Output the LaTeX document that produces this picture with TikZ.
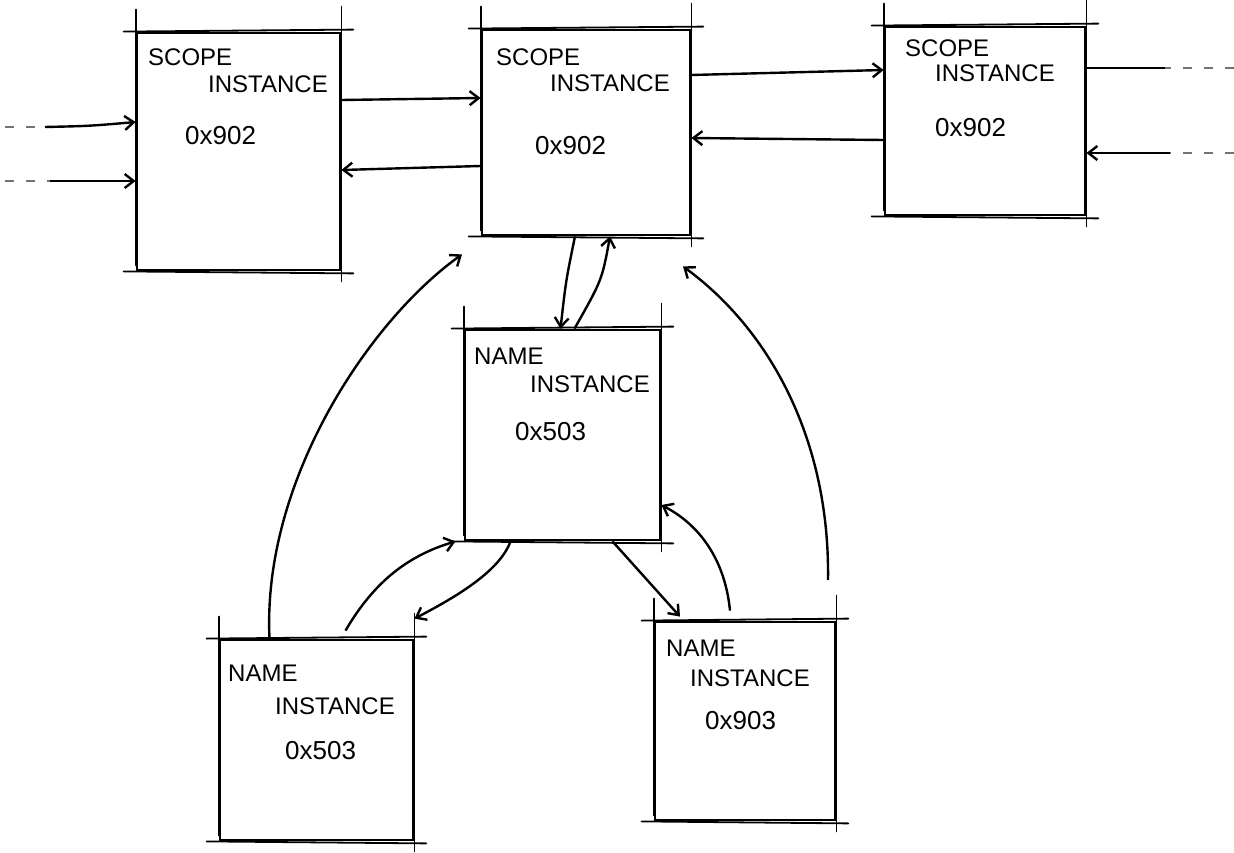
\documentclass[tikz,border=0pt]{standalone}
\usepackage{fontspec}
\setmainfont{Liberation Sans}
\usetikzlibrary{arrows.meta,calc}
\tikzset{
  boxnode/.style={draw=black, line width=2.8pt, inner sep=0pt},
  extline/.style={black, line width=1.8pt, line cap=round},
  lbl/.style={font=\fontsize{24}{26}\selectfont, anchor=west, inner sep=0pt},
  num/.style={font=\fontsize{26}{28}\selectfont, anchor=west, inner sep=0pt},
  conn/.style={black, line width=2.4pt, -{Straight Barb[length=9pt,width=14pt,line width=2.4pt]}},
  plainconn/.style={black, line width=2.4pt},
  fade/.style={black!55, line width=2.4pt, dash pattern=on 9pt off 12pt},
}
\newcommand\sketchext[1]{%
  \draw[extline] ($(#1.north west)+(-12,0)$) -- ($(#1.north east)+(12,-2)$);
  \draw[extline] ($(#1.south west)+(-12,0)$) -- ($(#1.south east)+(12,2)$);
  \draw[extline] ($(#1.north west)+(0,-22)$) -- ($(#1.south west)+(0,-6)$);
  \draw[extline] ($(#1.north east)+(0,-25)$) -- ($(#1.south east)+(0,10)$);
}
\begin{document}
\begin{tikzpicture}[x=1pt,y=-1pt]
\useasboundingbox (0,0) rectangle (1234,853);
\fill[white] (0,0) rectangle (1234,853);

% boxes
\node[boxnode, minimum width=203pt, minimum height=237pt] (A) at (238.5,151.5) {};
\node[boxnode, minimum width=208pt, minimum height=205pt] (B) at (586,132.5) {};
\node[boxnode, minimum width=200pt, minimum height=188pt] (C) at (985,121) {};
\node[boxnode, minimum width=195pt, minimum height=210pt] (D) at (562.5,435) {};
\node[boxnode, minimum width=193pt, minimum height=200pt] (E) at (316.5,740) {};
\node[boxnode, minimum width=180pt, minimum height=198pt] (F) at (745,721) {};

\sketchext{A}\sketchext{B}\sketchext{C}\sketchext{D}\sketchext{E}\sketchext{F}

% texts
\node[lbl] (a1) at (148,57) {SCOPE};
\node[lbl] (a2) at (208,84) {INSTANCE};
\node[num] (a3) at (185,136) {0x902};

\node[lbl] (b1) at (496,57) {SCOPE};
\node[lbl] (b2) at (550,83) {INSTANCE};
\node[num] (b3) at (535,146) {0x902};

\node[lbl] (c1) at (905,48) {SCOPE};
\node[lbl] (c2) at (935,73) {INSTANCE};
\node[num] (c3) at (935,128) {0x902};

\node[lbl] (d1) at (474,356) {NAME};
\node[lbl] (d2) at (530,384) {INSTANCE};
\node[num] (d3) at (515,432) {0x503};

\node[lbl] (e1) at (228,673) {NAME};
\node[lbl] (e2) at (275,706) {INSTANCE};
\node[num] (e3) at (285,751) {0x503};

\node[lbl] (f1) at (666,648) {NAME};
\node[lbl] (f2) at (690,678) {INSTANCE};
\node[num] (f3) at (705,721) {0x903};

% free ends
\coordinate (l1) at (45,127);
\coordinate (l2) at (50,181);
\coordinate (r1) at (1165,68);
\coordinate (r2) at (1170,153);
\draw[fade] (5,127) -- (l1);
\draw[fade] (5,181) -- (l2);
\draw[fade] (1234,68) -- (r1);
\draw[fade] (1234,153) -- (r2);

% connectors
\draw[conn] (l1) .. controls (90,126) .. ([yshift=29.5pt]A.west);
\draw[conn] (l2) -- ([yshift=-29.5pt]A.west);
\draw[conn] ([yshift=51.5pt]A.east) -- ([yshift=34.5pt]B.west);
\draw[conn] ([yshift=-33.5pt]B.west) -- ([yshift=-18.5pt]A.east);
\draw[conn] ([yshift=57.5pt]B.east) -- ([yshift=51pt]C.west);
\draw[conn] ([yshift=-19pt]C.west) -- ([yshift=-5.5pt]B.east);
\draw[plainconn] ([yshift=53pt]C.east) -- (r1);
\draw[conn] (r2) -- ([yshift=-32pt]C.east);

\draw[conn] ([xshift=-11pt]B.south) .. controls (566,280) .. ([xshift=-2pt]D.north);
\draw[conn] ([xshift=12pt]D.north) .. controls (602,280) .. ([xshift=24pt]B.south);

\draw[conn] ([xshift=-47pt]E.north) .. controls (262,480) and (370,320) .. ([xshift=-124pt,yshift=-18pt]B.south);
\draw[conn] (828,580) .. controls (830,440) and (770,330) .. ([xshift=97pt,yshift=-30pt]B.south);

\draw[conn] ([xshift=29pt,yshift=8pt]E.north) .. controls (375,580) and (410,555) .. ([xshift=-107pt]D.south);
\draw[conn] ([xshift=-52pt]D.south) .. controls (500,570) and (460,595) .. ([xshift=98pt,yshift=20pt]E.north);
\draw[conn] ([xshift=50pt]D.south) -- ([xshift=-65pt,yshift=4pt]F.north);
\draw[conn] ([xshift=-15pt,yshift=10pt]F.north) .. controls (725,560) and (700,525) .. ([yshift=-70pt]D.east);
\end{tikzpicture}
\end{document}
